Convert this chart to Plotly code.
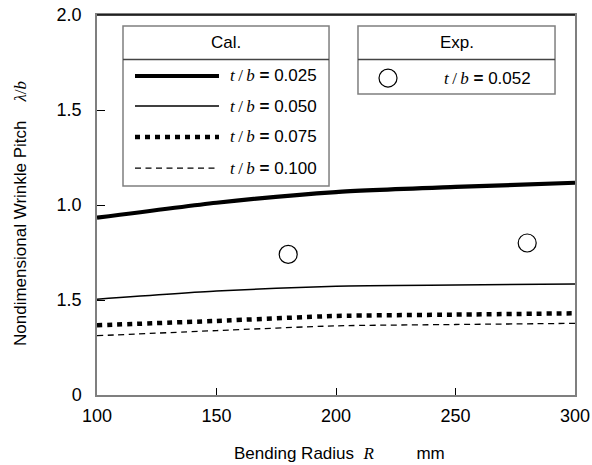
import plotly.graph_objects as go

# ---------------- data ----------------
R = [100, 150, 200, 250, 300]
pitch_025 = [0.933, 1.012, 1.068, 1.095, 1.117]
pitch_050 = [0.504, 0.547, 0.573, 0.579, 0.584]
pitch_075 = [0.367, 0.390, 0.416, 0.423, 0.430]
pitch_100 = [0.312, 0.339, 0.364, 0.371, 0.377]
exp_R = [180, 280]
exp_pitch = [0.740, 0.800]

cal_labels = ["0.025", "0.050", "0.075", "0.100"]
exp_label = "0.052"
x_tickvals = [100, 150, 200, 250, 300]
y_tickvals = [0, 0.5, 1.0, 1.5, 2.0]
y_ticktext = ["0", "1.5", "1.0", "1.5", "2.0"]

# ---------------- styles ----------------
SANS = "Liberation Sans"
SERIF = "Liberation Serif"
FS = 17
cal_series = [pitch_025, pitch_050, pitch_075, pitch_100]
cal_widths = [4.2, 1.5, 4.5, 1.3]
cal_dashes = ["solid", "solid", "5px,5px", "6px,4.5px"]
AXIS_GRAY = "#7f7f7f"

fig = go.Figure()

for ys, w, d, lab in zip(cal_series, cal_widths, cal_dashes, cal_labels):
    fig.add_trace(go.Scatter(
        x=R, y=ys, mode="lines",
        line=dict(color="black", width=w, dash=d, shape="spline", smoothing=0.6),
        name="t/b = " + lab, showlegend=False, hoverinfo="skip"))

fig.add_trace(go.Scatter(
    x=exp_R, y=exp_pitch, mode="markers",
    marker=dict(symbol="circle-open", size=18, color="black", line=dict(width=1.2, color="black")),
    name="t/b = " + exp_label, showlegend=False, hoverinfo="skip"))

# ---------------- custom boxed legends (overlay axes 0..1 over plot area) ----------------
cal_box = dict(x0=0.0544, x1=0.4854, y0=0.55, y1=0.9711, sep=0.8829)
exp_box = dict(x0=0.546, x1=0.9582, y0=0.7921, y1=0.9711, sep=0.8829)
cal_rows = [0.8395, 0.7605, 0.679, 0.597]
sample_x = [0.0795, 0.2552]
cal_text_x = 0.2742
exp_row = 0.834
exp_sym_x = 0.6088
exp_text_x = 0.7218

shapes = []
for b in (cal_box, exp_box):
    shapes.append(dict(type="rect", xref="paper", yref="paper", x0=b["x0"], x1=b["x1"],
                       y0=b["y0"], y1=b["y1"], line=dict(color=AXIS_GRAY, width=1.5),
                       fillcolor="white", layer="below"))
    shapes.append(dict(type="line", xref="paper", yref="paper", x0=b["x0"], x1=b["x1"],
                       y0=b["sep"], y1=b["sep"], line=dict(color="#444", width=1.3)))
# top frame line (black)
shapes.append(dict(type="line", xref="paper", yref="paper", x0=0, x1=1, y0=1, y1=1,
                   line=dict(color="black", width=1.3)))

for row, w, d in zip(cal_rows, cal_widths, cal_dashes):
    fig.add_trace(go.Scatter(
        x=sample_x, y=[row, row], xaxis="x2", yaxis="y2", mode="lines",
        line=dict(color="black", width=w, dash=d), showlegend=False, hoverinfo="skip"))
fig.add_trace(go.Scatter(
    x=[exp_sym_x], y=[exp_row], xaxis="x2", yaxis="y2", mode="markers",
    marker=dict(symbol="circle-open", size=18, color="black", line=dict(width=1.2, color="black")),
    showlegend=False, hoverinfo="skip"))


def tb_text(val):
    return (f'<span style="font-family:{SERIF}"><i>t</i>\u2009/\u2009<i>b</i></span>'
            f' <b>=</b> {val}')


font_main = dict(family=SANS, size=FS, color="black")
annotations = []
annotations.append(dict(xref="paper", yref="paper", x=(cal_box["x0"] + cal_box["x1"]) / 2,
                        y=(cal_box["y1"] + cal_box["sep"]) / 2, text="Cal.", showarrow=False,
                        xanchor="center", yanchor="middle", font=font_main))
annotations.append(dict(xref="paper", yref="paper", x=(exp_box["x0"] + exp_box["x1"]) / 2,
                        y=(exp_box["y1"] + exp_box["sep"]) / 2, text="Exp.", showarrow=False,
                        xanchor="center", yanchor="middle", font=font_main))
for row, lab in zip(cal_rows, cal_labels):
    annotations.append(dict(xref="paper", yref="paper", x=cal_text_x, y=row, text=tb_text(lab),
                            showarrow=False, xanchor="left", yanchor="middle", font=font_main))
annotations.append(dict(xref="paper", yref="paper", x=exp_text_x, y=exp_row, text=tb_text(exp_label),
                        showarrow=False, xanchor="left", yanchor="middle", font=font_main))

NB = "\u00a0"
x_title = (f"Bending Radius{NB}{NB}<span style=\"font-family:{SERIF}\"><i>R</i></span>"
           f"{NB*9}mm")
y_title = (f"Nondimensional Wrinkle Pitch{NB*4}"
           f"<span style=\"font-family:{SERIF}\"><i>λ</i>/<i>b</i></span>")
annotations.append(dict(xref="paper", yref="paper", x=0.508, y=-0.155, text=x_title,
                        showarrow=False, xanchor="center", yanchor="middle", font=font_main))
annotations.append(dict(xref="paper", yref="paper", x=-0.159, y=0.479, text=y_title, textangle=-90,
                        showarrow=False, xanchor="center", yanchor="middle", font=font_main))

fig.update_layout(
    width=592, height=465,
    margin=dict(l=97, r=17, t=15, b=70),
    paper_bgcolor="white", plot_bgcolor="white",
    font=font_main,
    shapes=shapes, annotations=annotations,
    xaxis=dict(range=[100, 300], tickvals=x_tickvals, ticks="inside", ticklen=7,
               tickcolor="black", tickwidth=1, showline=True, linecolor=AXIS_GRAY, linewidth=1.5,
               mirror=True, showgrid=False, zeroline=False, tickfont=dict(size=18),
               ticklabelstandoff=4, automargin=False, ticklabeloverflow="allow"),
    yaxis=dict(range=[0, 2.0], tickvals=y_tickvals, ticktext=y_ticktext, ticks="inside",
               ticklen=8, tickcolor="black", tickwidth=1, showline=True, linecolor=AXIS_GRAY,
               linewidth=1.5, mirror=True, showgrid=False, zeroline=False,
               tickfont=dict(size=18), ticklabelstandoff=10, automargin=False,
               ticklabeloverflow="allow"),
    xaxis2=dict(overlaying="x", range=[0, 1], visible=False, fixedrange=True),
    yaxis2=dict(overlaying="y", range=[0, 1], visible=False, fixedrange=True),
)

# remove the browser's default 8px body margin so the figure sits at the page origin
fig.write_html("out.html", config={"displayModeBar": False},
               post_script="document.body.style.margin='0';document.body.style.overflow='hidden';")
